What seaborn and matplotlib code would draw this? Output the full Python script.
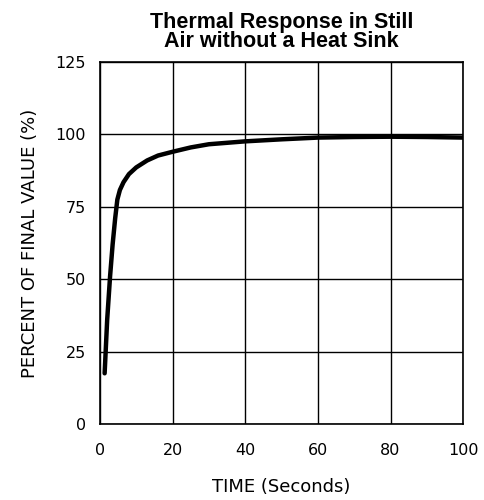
import matplotlib
matplotlib.use("Agg")
import matplotlib.pyplot as plt
import seaborn as sns
import pandas as pd

# values
time_s = [1.3, 2.0, 2.8, 3.5, 4.2, 4.8, 5.5, 6.5, 8.0, 10, 13, 16, 20, 25, 30, 40, 50, 60, 70, 80, 90, 100]
percent = [17.5, 36, 51, 62, 71, 77.5, 80.8, 83.5, 86.3, 88.6, 91, 92.7, 94, 95.5, 96.6, 97.6, 98.3, 98.9, 99.1, 99.2, 99.1, 98.9]
x_ticks = [0, 20, 40, 60, 80, 100]
y_ticks = [0, 25, 50, 75, 100, 125]

df = pd.DataFrame({"time": time_s, "percent": percent})

sns.set_style("white")
plt.rcParams['font.family'] = ['DejaVu Sans']

fig = plt.figure(figsize=(4.85, 5), dpi=100)
ax = fig.add_axes([0.206, 0.152, 0.749, 0.724])

sns.lineplot(data=df, x="time", y="percent", ax=ax, color="black", linewidth=3.2)

ax.set_xlim(0, 100)
ax.set_ylim(0, 125)
ax.set_xticks(x_ticks)
ax.set_yticks(y_ticks)
ax.grid(True, color="black", linewidth=1.0)
for s in ax.spines.values():
    s.set_color("black")
    s.set_linewidth(1.2)
ax.tick_params(length=0, labelsize=11.5, colors="black")
ax.tick_params(axis="x", pad=14)
ax.tick_params(axis="y", pad=10)

ax.set_xlabel("TIME (Seconds)", fontsize=13, labelpad=14, color="black")
ax.set_ylabel("PERCENT OF FINAL VALUE (%)", fontsize=13, labelpad=12, color="black")
ax.set_title("Thermal Response in Still\nAir without a Heat Sink",
             fontsize=15.5, fontweight="bold", family="Liberation Sans",
             linespacing=0.85, pad=11, color="black")

fig.savefig("out.png", dpi=100)
